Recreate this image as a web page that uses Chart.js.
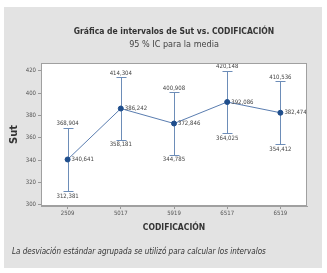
<!DOCTYPE html>
<html>
<head>
<meta charset="utf-8">
<script src="https://cdn.jsdelivr.net/npm/chart.js@4"></script>
<style>
  html, body { margin: 0; padding: 0; background: #fff; }
  #wrap { width: 327px; height: 273px; }
</style>
</head>
<body>
<div id="wrap"><canvas id="sutChart" width="327" height="273"></canvas></div>
<script>
// datos
const codificacion = ['2509', '5017', '5919', '6517', '6519'];
const medias = [340.641, 386.242, 372.846, 392.086, 382.474];
const superior = [368.904, 414.304, 400.908, 420.148, 410.536];
const inferior = [312.381, 358.181, 344.785, 364.025, 354.412];
const yTicks = [300, 320, 340, 360, 380, 400, 420];

const narrow = '"DejaVu Sans Condensed", "DejaVu Sans", sans-serif';

function fmt(v) {
    return v.toFixed(3).replace('.', ',');
}

// fondo gris del panel, area blanca, titulos y nota
const panelPlugin = {
    id: 'panel',
    beforeDraw(chart) {
        const ctx = chart.ctx;
        const a = chart.chartArea;
        ctx.save();
        ctx.fillStyle = '#e3e3e3';
        ctx.fillRect(4, 7, 318, 261);
        ctx.fillStyle = '#ffffff';
        ctx.fillRect(a.left, a.top, a.right - a.left, a.bottom - a.top);
        ctx.restore();
    },
    afterDraw(chart) {
        const ctx = chart.ctx;
        const a = chart.chartArea;
        const cx = (a.left + a.right) / 2;
        ctx.save();
        ctx.strokeStyle = '#a0a0a0';
        ctx.lineWidth = 1;
        ctx.strokeRect(a.left + 0.5, a.top + 0.5, a.right - a.left - 1, a.bottom - a.top - 1);
        ctx.textBaseline = 'middle';
        ctx.textAlign = 'center';
        ctx.fillStyle = '#333';
        ctx.font = 'condensed bold 8.5px ' + narrow;
        ctx.fillText('Gráfica de intervalos de Sut vs. CODIFICACIÓN', cx, 32);
        ctx.fillStyle = '#444';
        ctx.font = 'condensed 9px ' + narrow;
        ctx.fillText('95 % IC para la media', cx, 45);
        // nota al pie
        ctx.textAlign = 'left';
        ctx.fillStyle = '#333';
        ctx.font = 'italic condensed 8px ' + narrow;
        ctx.fillText('La desviación estándar agrupada se utilizó para calcular los intervalos', 12, 252);
        ctx.restore();
    }
};

// barras de intervalo y etiquetas
const intervalPlugin = {
    id: 'intervals',
    beforeDatasetsDraw(chart) {
        const ctx = chart.ctx;
        const xs = chart.scales.x, ys = chart.scales.y;
        ctx.save();
        ctx.strokeStyle = '#6d8db8';
        ctx.lineWidth = 1;
        codificacion.forEach((c, i) => {
            const x = Math.round(xs.getPixelForValue(i)) + 0.5;
            const yu = Math.round(ys.getPixelForValue(superior[i])) + 0.5;
            const yl = Math.round(ys.getPixelForValue(inferior[i])) + 0.5;
            ctx.beginPath();
            ctx.moveTo(x, yu); ctx.lineTo(x, yl);
            ctx.moveTo(x - 5, yu); ctx.lineTo(x + 5, yu);
            ctx.moveTo(x - 5, yl); ctx.lineTo(x + 5, yl);
            ctx.stroke();
        });
        ctx.restore();
    },
    afterDatasetsDraw(chart) {
        const ctx = chart.ctx;
        const xs = chart.scales.x, ys = chart.scales.y;
        ctx.save();
        ctx.fillStyle = '#444';
        ctx.font = 'condensed 6px ' + narrow;
        codificacion.forEach((c, i) => {
            const x = xs.getPixelForValue(i);
            ctx.textAlign = 'center';
            ctx.textBaseline = 'bottom';
            ctx.fillText(fmt(superior[i]), x, ys.getPixelForValue(superior[i]) - 1);
            ctx.textBaseline = 'top';
            ctx.fillText(fmt(inferior[i]), x, ys.getPixelForValue(inferior[i]) + 2);
            ctx.textAlign = 'left';
            ctx.textBaseline = 'middle';
            ctx.fillText(fmt(medias[i]), x + 4, ys.getPixelForValue(medias[i]));
        });
        ctx.restore();
    }
};

const ctxSut = document.getElementById('sutChart').getContext('2d');
const sutChart = new Chart(ctxSut, {
    type: 'line',
    data: {
        labels: codificacion,
        datasets: [
            {
                label: 'Sut',
                data: medias,
                borderColor: '#5a7db0',
                borderWidth: 1,
                backgroundColor: '#1f4e8c',
                pointBackgroundColor: '#1f4e8c',
                pointBorderColor: '#1f4e8c',
                pointRadius: 2.5,
                fill: false,
            }
        ]
    },
    options: {
        responsive: false,
        animation: false,
        layout: { padding: { left: 8, right: 20, top: 63, bottom: 37 } },
        plugins: {
            legend: { display: false },
            tooltip: { enabled: false },
            title: { display: false },
            subtitle: { display: false }
        },
        scales: {
            x: {
                type: 'category',
                offset: true,
                grid: { display: true, drawOnChartArea: false, drawTicks: true, tickLength: 3, color: '#999' },
                border: { color: '#a0a0a0' },
                ticks: { color: '#555', font: { family: narrow, size: 6, style: 'condensed' }, padding: 1, maxRotation: 0 },
                title: {
                    display: true,
                    text: 'CODIFICACIÓN',
                    color: '#333',
                    font: { family: narrow, size: 8.5, weight: 'bold', style: 'condensed' },
                    padding: { top: 0, bottom: 3 }
                },
                afterFit(s) { s.height = 30; }
            },
            y: {
                min: 299,
                max: 427,
                grid: { display: true, drawOnChartArea: false, drawTicks: true, tickLength: 3, color: '#999' },
                border: { color: '#a0a0a0' },
                ticks: { color: '#555', font: { family: narrow, size: 6, style: 'condensed' }, padding: 2 },
                afterBuildTicks(s) { s.ticks = yTicks.map(v => ({ value: v })); },
                title: {
                    display: true,
                    text: 'Sut',
                    color: '#333',
                    font: { family: narrow, size: 11, weight: 'bold', style: 'condensed' },
                    padding: { top: 0, bottom: 4 }
                },
                afterFit(s) { s.width = 33; }
            }
        }
    },
    plugins: [panelPlugin, intervalPlugin]
});
</script>
</body>
</html>
